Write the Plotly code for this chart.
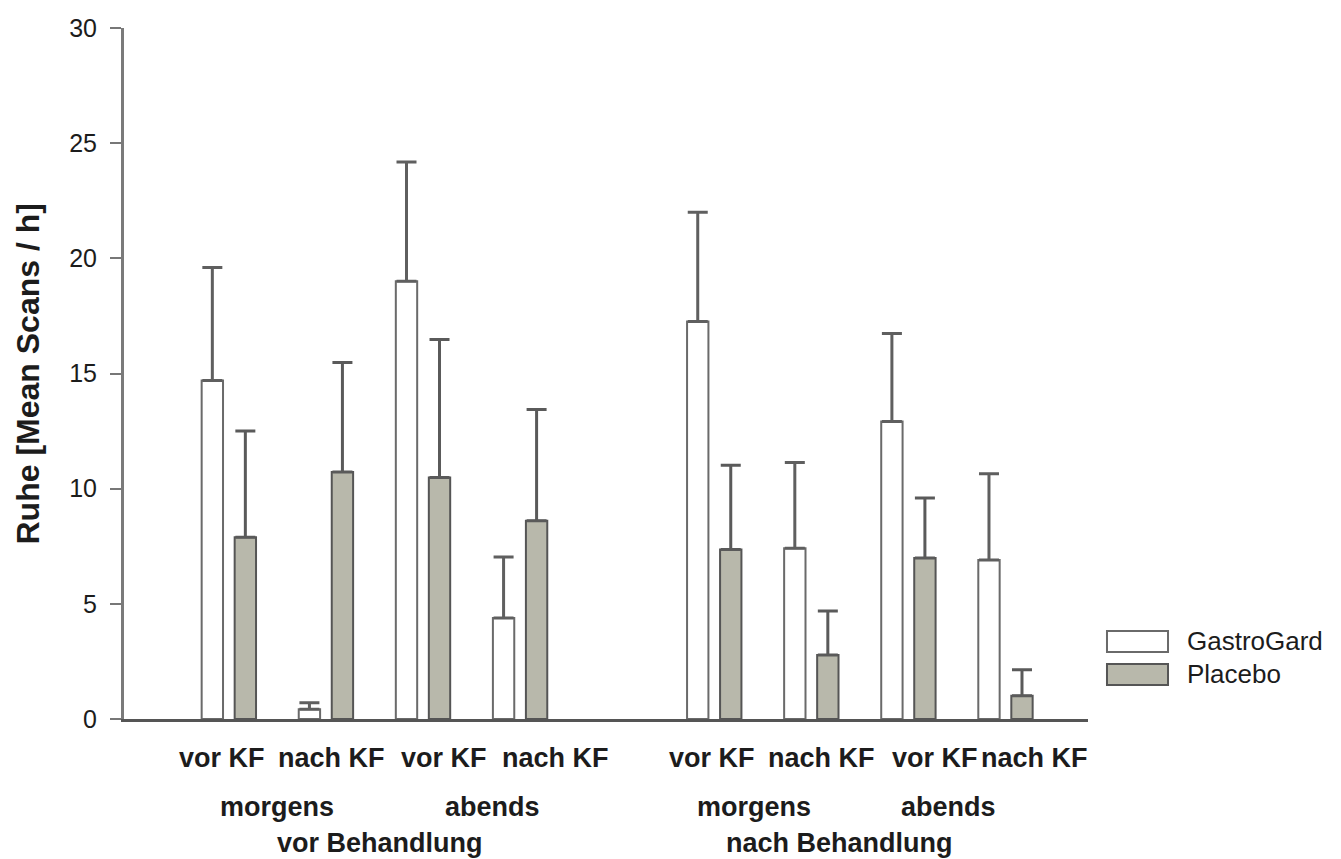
import plotly.graph_objects as go

# ---- data ----
kf_labels = ["vor KF", "nach KF", "vor KF", "nach KF", "vor KF", "nach KF", "vor KF", "nach KF"]
time_labels = ["morgens", "abends", "morgens", "abends"]
phase_labels = ["vor Behandlung", "nach Behandlung"]

gastro_mean = [14.7, 0.42, 19.0, 4.38, 17.26, 7.41, 12.92, 6.9]
gastro_sd = [4.9, 0.29, 5.18, 2.65, 4.74, 3.73, 3.82, 3.75]
placebo_mean = [7.89, 10.72, 10.49, 8.61, 7.36, 2.78, 6.99, 1.01]
placebo_sd = [4.61, 4.76, 5.99, 4.83, 3.66, 1.91, 2.61, 1.13]

y_ticks = [0, 5, 10, 15, 20, 25, 30]

# slot positions: 4 categories per phase with one empty slot between phases
slots = [i + (1 if i >= 4 else 0) for i in range(len(kf_labels))]

FONT = "Liberation Sans, Arial, Helvetica, sans-serif"
TXT = "#1c1c1c"

fig = go.Figure()
fig.add_trace(go.Bar(
    x=slots, y=gastro_mean, name="GastroGard",
    width=0.22, offset=-0.28,
    marker=dict(color="white", line=dict(color="#6a6a6a", width=2)),
    error_y=dict(type="data", symmetric=False, array=gastro_sd,
                 arrayminus=[0] * len(gastro_sd),
                 color="#5f5f5f", thickness=3, width=10),
    showlegend=False,
))
fig.add_trace(go.Bar(
    x=slots, y=placebo_mean, name="Placebo",
    width=0.22, offset=0.06,
    marker=dict(color="#b8b8ab", line=dict(color="#555555", width=2)),
    error_y=dict(type="data", symmetric=False, array=placebo_sd,
                 arrayminus=[0] * len(placebo_sd),
                 color="#5a5a5a", thickness=3, width=10),
    showlegend=False,
))

annotations = []
# first row: vor KF / nach KF (slightly shifted like reference)
row1_shift = [-0.07, 0.06, 0.22, 0.36, -0.02, 0.10, 0.27, 0.30]
for s, lab, d in zip(slots, kf_labels, row1_shift):
    annotations.append(dict(x=s + d, y=-0.0564, xref="x", yref="paper",
                            text=lab, showarrow=False, xanchor="center", yanchor="middle",
                            font=dict(family=FONT, size=27, color=TXT, weight="bold")))
# second row: morgens / abends centred between pairs
row2_shift = [0.0, 0.22, -0.09, -0.09]
for k, (lab, d) in enumerate(zip(time_labels, row2_shift)):
    s = (slots[2 * k] + slots[2 * k + 1]) / 2
    annotations.append(dict(x=s + d, y=-0.1274, xref="x", yref="paper",
                            text=lab, showarrow=False, xanchor="center", yanchor="middle",
                            font=dict(family=FONT, size=27, color=TXT, weight="bold")))
# third row: phases
row3_shift = [0.06, -0.21]
for k, (lab, d) in enumerate(zip(phase_labels, row3_shift)):
    s = sum(slots[4 * k:4 * k + 4]) / 4
    annotations.append(dict(x=s + d, y=-0.1795, xref="x", yref="paper",
                            text=lab, showarrow=False, xanchor="center", yanchor="middle",
                            font=dict(family=FONT, size=27, color=TXT, weight="bold")))
# y axis title
annotations.append(dict(x=-0.0996, y=0.5, xref="paper", yref="paper",
                        text="Ruhe [Mean Scans / h]", textangle=-90, showarrow=False,
                        xanchor="center", yanchor="middle",
                        font=dict(family=FONT, size=32, color=TXT, weight="bold")))

# custom legend
legend_items = [("GastroGard", "white", "#6a6a6a", 0.1274, 0.0970),
                ("Placebo", "#b8b8ab", "#555555", 0.0796, 0.0492)]
shapes = []
for name, fill, line, y1, y0 in legend_items:
    shapes.append(dict(type="rect", xref="paper", yref="paper",
                       x0=1.0197, x1=1.083, y0=y0, y1=y1,
                       fillcolor=fill, line=dict(color=line, width=2)))
    annotations.append(dict(x=1.1006, y=(y0 + y1) / 2, xref="paper", yref="paper",
                            text=name, showarrow=False, xanchor="left", yanchor="middle",
                            font=dict(family=FONT, size=26, color=TXT)))

fig.update_layout(
    width=1333, height=851,
    margin=dict(l=116, r=253, t=20, b=140, autoexpand=False),
    paper_bgcolor="white", plot_bgcolor="white",
    barmode="overlay",
    annotations=annotations, shapes=shapes,
    xaxis=dict(range=[-1.08, 8.85], showgrid=False, zeroline=False,
               showticklabels=False, ticks="", showline=True,
               linecolor="#555555", linewidth=3),
    yaxis=dict(range=[0, 30], tickvals=y_ticks, showgrid=False, zeroline=False,
               ticks="outside", ticklen=11, tickwidth=2, tickcolor="#777777",
               showline=True, linecolor="#7a7a7a", linewidth=3,
               ticklabelstandoff=8,
               tickfont=dict(family=FONT, size=25, color=TXT)),
)

fig.write_html("out.html")
